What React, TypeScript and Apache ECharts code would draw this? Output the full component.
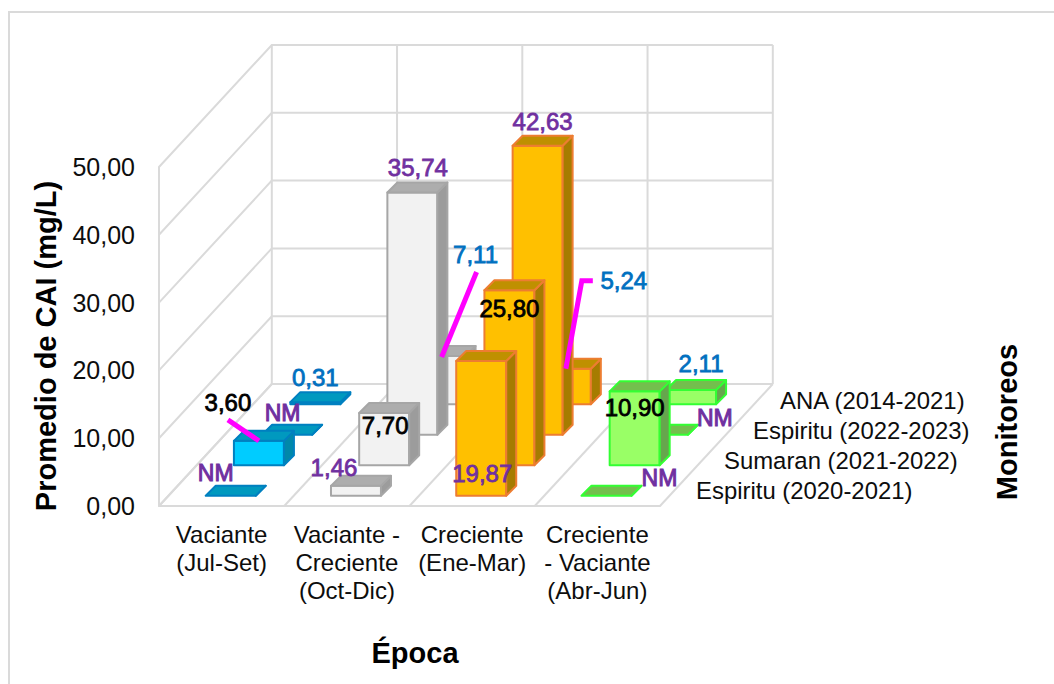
import React, { useEffect, useRef } from "react";
import * as echarts from "echarts";

const categories = ["Vaciante\n(Jul-Set)", "Vaciante -\nCreciente\n(Oct-Dic)", "Creciente\n(Ene-Mar)", "Creciente\n- Vaciante\n(Abr-Jun)"];
const yTicks = [0, 10, 20, 30, 40, 50];
// null = NM (no medido), drawn as a flat bar
const espiritu2021: (number | null)[] = [null, 1.46, 19.87, null];
const sumaran: (number | null)[] = [3.6, 7.7, 25.8, 10.9];
const espiritu2223: (number | null)[] = [null, 35.74, 42.63, null];
const ana: (number | null)[] = [0.31, 7.11, 5.24, 2.11];
const rows = [espiritu2021, sumaran, espiritu2223, ana];
const rowNames = ["Espiritu (2020-2021)", "Sumaran (2021-2022)", "Espiritu (2022-2023)", "ANA (2014-2021)"];

const FONT = "'Liberation Sans', Arial, sans-serif";
const PURPLE = "#7030A0";
const BLUE = "#0070C0";
const BLACK = "#000000";
const MAGENTA = "#FF00FF";
const GRID = "#DADADA";
const TEXT = "#0d0d0d";

const ROW_DX = 28.2;
const ROW_DY = 30.5;
const BAR_W = 50;
const BAR_D = 10;

const catColors = [
  { front: "#00CCFF", stroke: "#0080C0", top: "#0099BF", side: "#0088AA" },
  { front: "#F2F2F2", stroke: "#A6A6A6", top: "#ADADAD", side: "#9C9C9C" },
  { front: "#FFC000", stroke: "#ED7D31", top: "#BF9000", side: "#A67C00" },
  { front: "#99FF66", stroke: "#33FF33", top: "#73BF4D", side: "#66A64D" },
];

// per row, per category: label colour and offset from the bar's top-front centre
const labelColors = [
  [PURPLE, PURPLE, PURPLE, PURPLE],
  [BLACK, BLACK, BLACK, BLACK],
  [PURPLE, PURPLE, PURPLE, PURPLE],
  [BLUE, BLUE, BLUE, BLUE],
];
const labelOffsets = [
  [[-15, -23], [-22, -18], [1, 112], [53, -18]],
  [[-31, -38], [1, 12], [0, 18], [0, 16]],
  [[-4.5, -22], [5.5, -25], [5, -24], [52, -17]],
  [[0, -25], [35, -102], [58, -88], [10, -26]],
];
// leader lines: "row-cat" -> points relative to the bar's top-front centre
const leaders: Record<string, number[][]> = {
  "1-0": [[-31, -21], [0, 0]],
  "3-1": [[36, -84], [1, 1]],
  "3-2": [[27, -88], [16, -88], [0, 0]],
};

function barGeom(api: any, r: number, c: number, v: number) {
  const base = api.coord([c, 0]);
  const topPt = api.coord([c, v]);
  const x = base[0] + (r + 0.5) * ROW_DX - BAR_D / 2 - BAR_W / 2;
  const off = (r + 0.5) * ROW_DY - BAR_D / 2;
  return { x, bottom: base[1] - off, top: topPt[1] - off };
}

function wallLines(params: any, api: any) {
  const v = api.value(0);
  const [x0, y0] = api.coord([0, v]);
  const left = x0 - api.size([1, 0])[0] / 2;
  const bw = api.size([1, 0])[0];
  const dx = ROW_DX * 4;
  const dy = ROW_DY * 4;
  return {
    type: "polyline",
    shape: { points: [[left, y0], [left + dx, y0 - dy], [left + dx + bw * 4, y0 - dy]] },
    style: { fill: "none", stroke: GRID, lineWidth: 2 },
  };
}

function floorLines(params: any, api: any) {
  const i = api.value(0);
  const bw = api.size([1, 0])[0];
  const [x0, y0] = api.coord([0, 0]);
  const [, yTop] = api.coord([0, 50]);
  const left = x0 - bw / 2 + i * bw;
  const dx = ROW_DX * 4;
  const dy = ROW_DY * 4;
  return {
    type: "group",
    children: [
      { type: "line", shape: { x1: left, y1: y0, x2: left + dx, y2: y0 - dy }, style: { stroke: GRID, lineWidth: 2 } },
      { type: "line", shape: { x1: left + dx, y1: y0 - dy, x2: left + dx, y2: yTop - dy }, style: { stroke: GRID, lineWidth: 2 } },
    ],
  };
}

function renderBar(r: number) {
  return (params: any, api: any) => {
    const c = api.value(0);
    const v = api.value(1);
    const g = barGeom(api, r, c, v);
    const col = catColors[c];
    const line = { stroke: col.stroke, lineWidth: 2, lineJoin: "round" };
    const x1 = g.x + BAR_W;
    const children: any[] = [
      { type: "polygon", shape: { points: [[x1, g.bottom], [x1 + BAR_D, g.bottom - BAR_D], [x1 + BAR_D, g.top - BAR_D], [x1, g.top]] }, style: { fill: col.side, ...line } },
      { type: "polygon", shape: { points: [[g.x, g.top], [x1, g.top], [x1 + BAR_D, g.top - BAR_D], [g.x + BAR_D, g.top - BAR_D]] }, style: { fill: col.top, ...line } },
    ];
    if (g.bottom - g.top > 0.5) {
      children.unshift({ type: "rect", shape: { x: g.x, y: g.top, width: BAR_W, height: g.bottom - g.top }, style: { fill: col.front, ...line } });
    }
    return { type: "group", children };
  };
}

function renderLabel(params: any, api: any) {
  const c = api.value(0);
  const v = api.value(1);
  const r = api.value(2);
  const measured = api.value(3);
  const g = barGeom(api, r, c, v);
  const cx = g.x + BAR_W / 2;
  const [ox, oy] = labelOffsets[r][c];
  const children: any[] = [];
  const pts = leaders[`${r}-${c}`];
  if (pts) {
    children.push({
      type: "polyline",
      shape: { points: pts.map(([a, b]) => [cx + a, g.top + b]) },
      style: { fill: "none", stroke: MAGENTA, lineWidth: 5 },
    });
  }
  const fill = labelColors[r][c];
  children.push({
    type: "text",
    x: cx + ox,
    y: g.top + oy,
    style: {
      text: measured ? v.toFixed(2).replace(".", ",") : "NM",
      fill,
      stroke: fill,
      lineWidth: measured ? 0.8 : 1,
      fontFamily: FONT,
      fontSize: measured ? 24 : 23,
      align: "center",
      verticalAlign: "middle",
    },
  });
  return { type: "group", children };
}

const titleStyle = { fontFamily: FONT, fontWeight: "bold", fontSize: 29, fill: "#000000", align: "center", verticalAlign: "middle" };
const rowLabelX = [696, 724, 753, 780];
const rowLabelY = [490, 460, 430, 400];

export default function App() {
  const ref = useRef<HTMLDivElement>(null);
  useEffect(() => {
    document.body.style.margin = "0";
    const chart = echarts.init(ref.current!, undefined, { renderer: "svg" });
    const labelData: number[][] = [];
    rows.forEach((vals, r) => vals.forEach((v, c) => labelData.push([c, v ?? 0, r, v === null ? 0 : 1])));
    chart.setOption({
      animation: false,
      backgroundColor: "#FFFFFF",
      grid: { left: 159, top: 167, width: 501, height: 339, containLabel: false },
      xAxis: {
        type: "category",
        data: categories,
        axisLine: { lineStyle: { color: GRID, width: 2 } },
        axisTick: { show: false },
        axisLabel: { interval: 0, margin: 14, fontFamily: FONT, fontSize: 24, lineHeight: 28, color: TEXT },
      },
      yAxis: {
        type: "value",
        min: 0,
        max: 50,
        interval: 10,
        axisLine: { show: true, lineStyle: { color: GRID, width: 2 } },
        axisTick: { show: false },
        splitLine: { show: false },
        axisLabel: {
          margin: 24,
          fontFamily: FONT,
          fontSize: 25,
          color: TEXT,
          formatter: (v: number) => v.toFixed(2).replace(".", ","),
        },
      },
      graphic: [
        { type: "rect", silent: true, z: -10, shape: { x: 9, y: 12, width: 1100, height: 720 }, style: { fill: "#FFFFFF", stroke: GRID, lineWidth: 2 } },
        { type: "text", rotation: Math.PI / 2, x: 46, y: 346, style: { ...titleStyle, text: "Promedio de CAI (mg/L)" } },
        { type: "text", x: 415, y: 653, style: { ...titleStyle, text: "Época" } },
        { type: "text", rotation: Math.PI / 2, x: 1007, y: 422, style: { ...titleStyle, text: "Monitoreos" } },
        ...rowNames.map((name, i) => ({
          type: "text",
          x: rowLabelX[i],
          y: rowLabelY[i],
          style: { text: name, fontFamily: FONT, fontSize: 23.9, fill: TEXT, align: "left", verticalAlign: "middle" },
        })),
      ],
      series: [
        { type: "custom", silent: true, clip: false, z: 1, data: yTicks.map((t) => [t]), encode: { y: 0 }, renderItem: wallLines },
        { type: "custom", silent: true, clip: false, z: 1, data: [0, 1, 2, 3, 4].map((t) => [t]), encode: { x: 0 }, renderItem: floorLines },
        ...[3, 2, 1, 0].map((r) => ({
          type: "custom",
          name: rowNames[r],
          silent: true,
          clip: false,
          z: 2,
          data: rows[r].map((v, c) => [c, v ?? 0]),
          encode: { x: 0, y: 1 },
          renderItem: renderBar(r),
        })),
        { type: "custom", silent: true, clip: false, z: 5, data: labelData, encode: { x: 0, y: 1 }, renderItem: renderLabel },
      ],
    });
    return () => chart.dispose();
  }, []);
  return <div ref={ref} style={{ position: "absolute", left: 0, top: 0, width: 1054, height: 684 }} />;
}
